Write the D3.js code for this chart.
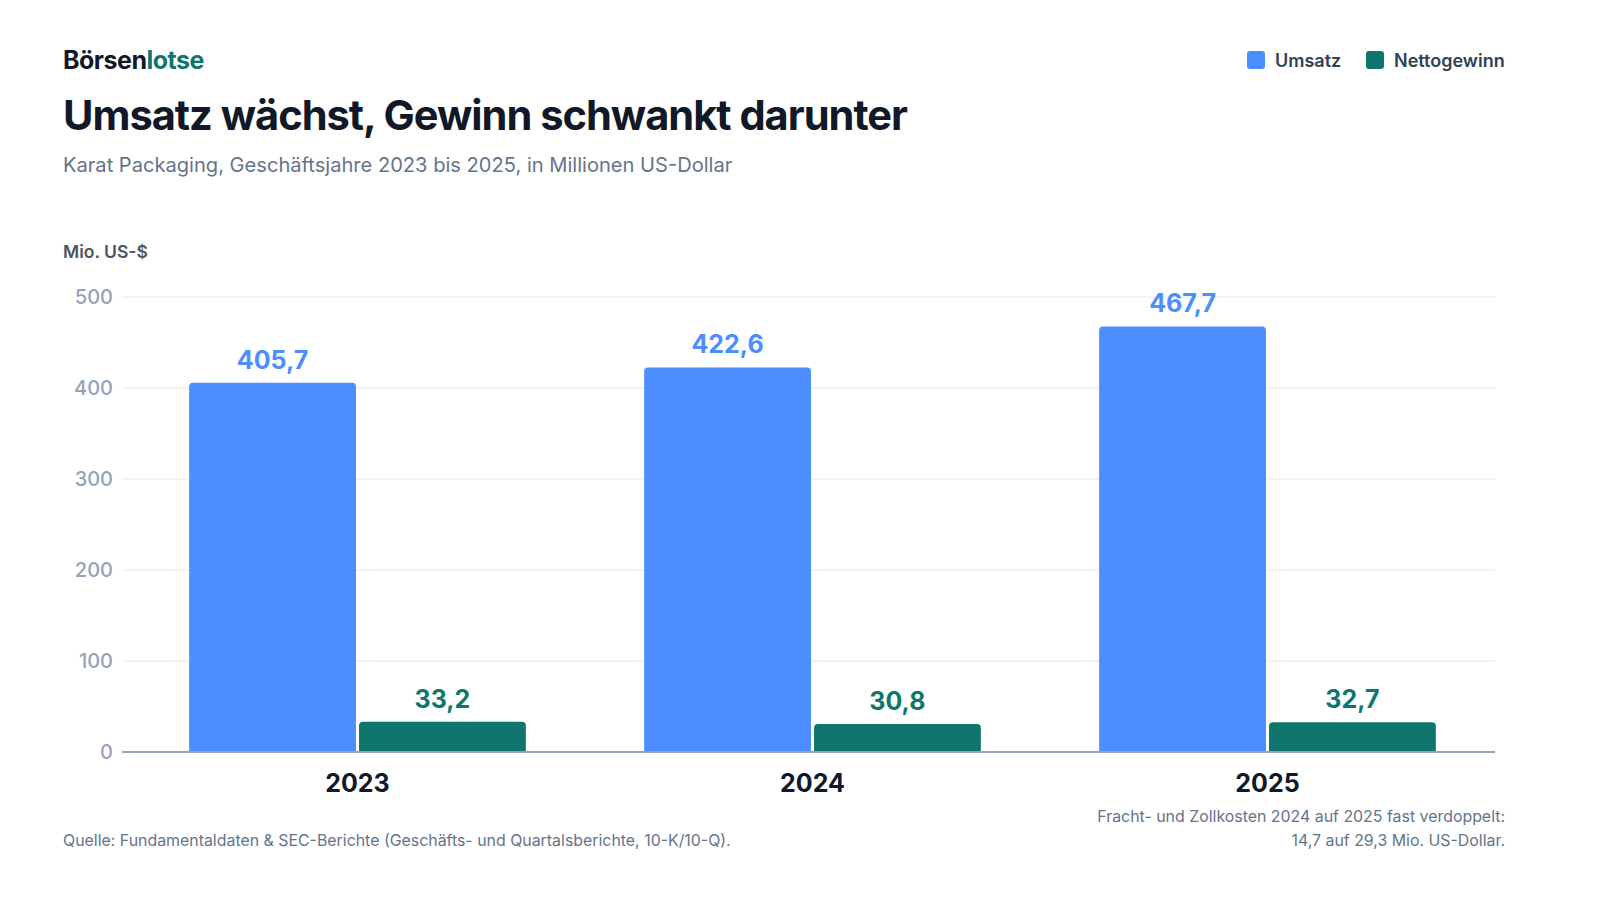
<!DOCTYPE html>
<html><head><meta charset="utf-8">
<script src="https://cdn.jsdelivr.net/npm/d3@7/dist/d3.min.js"></script>
<style>
html,body{margin:0;padding:0;background:#fff;}
svg{display:block;font-family:Inter,"Noto Sans",sans-serif;}
</style></head>
<body>
<svg id="chart" width="1600" height="900"></svg>
<script>
const years = ["2023","2024","2025"];
const seriesNames = ["Umsatz","Nettogewinn"];
const umsatz = [405.7, 422.6, 467.7];
const nettogewinn = [33.2, 30.8, 32.7];
const yTicks = [0,100,200,300,400,500];
const colors = {"Umsatz":"#4C8DFF","Nettogewinn":"#0F766E"};

const data = years.map((y,i)=>({year:y, values:[{k:"Umsatz",v:umsatz[i]},{k:"Nettogewinn",v:nettogewinn[i]}]}));
const svg = d3.select("#chart");
const fmt = v => d3.format(".1f")(v).replace(".", ",");

const y = d3.scaleLinear().domain([0,500]).range([752,297]);
const x0 = d3.scaleBand().domain(years).range([130,1495]).paddingInner(0.26).paddingOuter(0.13);
const x1 = d3.scaleBand().domain(seriesNames).range([0,x0.bandwidth()]).paddingInner(0.018);

// header
const logo = svg.append("text").attr("x",63).attr("y",69).attr("font-size",25).attr("font-weight",700).attr("letter-spacing",-0.5);
logo.append("tspan").attr("fill","#111827").text("Börsen");
logo.append("tspan").attr("fill","#0F766E").text("lotse");
svg.append("text").attr("x",63).attr("y",130).attr("font-size",41.6).attr("font-weight",700).attr("fill","#111827").attr("letter-spacing",-1).text("Umsatz wächst, Gewinn schwankt darunter");
svg.append("text").attr("x",63).attr("y",172).attr("font-size",20.1).attr("fill","#64748b").text("Karat Packaging, Geschäftsjahre 2023 bis 2025, in Millionen US-Dollar");
svg.append("text").attr("x",63).attr("y",258).attr("font-size",17.5).attr("font-weight",600).attr("fill","#4b5563").text("Mio. US-$");

// legend
const leg = [{k:"Umsatz",x:1247},{k:"Nettogewinn",x:1366}];
leg.forEach(l=>{
  svg.append("rect").attr("x",l.x).attr("y",51).attr("width",18).attr("height",18).attr("rx",3).attr("fill",colors[l.k]);
  svg.append("text").attr("x",l.x+28).attr("y",66.5).attr("font-size",18).attr("font-weight",600).attr("fill","#334155").text(l.k);
});

// grid
svg.append("g").selectAll("line").data(yTicks.filter(t=>t>0)).join("line")
  .attr("x1",122).attr("x2",1495).attr("y1",d=>y(d)).attr("y2",d=>y(d))
  .attr("stroke","#e5e7eb").attr("stroke-width",1);
svg.append("g").selectAll("text").data(yTicks).join("text")
  .attr("x",113).attr("y",d=>y(d)+7).attr("text-anchor","end")
  .attr("font-size",20).attr("font-weight",500).attr("fill","#94a3b8").text(d=>d);

// bars
function topRounded(x,yTop,w,h,r){
  r=Math.min(r,h,w/2);
  return `M${x},${yTop+h}V${yTop+r}Q${x},${yTop} ${x+r},${yTop}H${x+w-r}Q${x+w},${yTop} ${x+w},${yTop+r}V${yTop+h}Z`;
}
const g = svg.append("g").selectAll("g").data(data).join("g").attr("transform",d=>`translate(${x0(d.year)},0)`);
g.selectAll("path").data(d=>d.values).join("path")
  .attr("d",d=>topRounded(x1(d.k),y(d.v),x1.bandwidth(),y(0)-y(d.v),4))
  .attr("fill",d=>colors[d.k]);
g.selectAll("text").data(d=>d.values).join("text")
  .attr("x",d=>x1(d.k)+x1.bandwidth()/2).attr("y",d=>y(d.v)-14)
  .attr("text-anchor","middle").attr("font-size",25).attr("font-weight",700)
  .attr("fill",d=>colors[d.k]).text(d=>fmt(d.v));

// baseline
svg.append("line").attr("x1",122).attr("x2",1495).attr("y1",y(0)).attr("y2",y(0)).attr("stroke","#94a3b8").attr("stroke-width",2);

// x labels
svg.append("g").selectAll("text").data(years).join("text")
  .attr("x",d=>x0(d)+x0.bandwidth()/2).attr("y",792).attr("text-anchor","middle")
  .attr("font-size",25).attr("font-weight",700).attr("fill","#111827").text(d=>d);

// footer
svg.append("text").attr("x",63).attr("y",846).attr("font-size",15.9).attr("fill","#64748b").text("Quelle: Fundamentaldaten & SEC-Berichte (Geschäfts- und Quartalsberichte, 10-K/10-Q).");
svg.append("text").attr("x",1505).attr("y",822).attr("text-anchor","end").attr("font-size",15.9).attr("fill","#64748b").text("Fracht- und Zollkosten 2024 auf 2025 fast verdoppelt:");
svg.append("text").attr("x",1505).attr("y",846).attr("text-anchor","end").attr("font-size",15.9).attr("fill","#64748b").text("14,7 auf 29,3 Mio. US-Dollar.");
</script>
</body></html>
